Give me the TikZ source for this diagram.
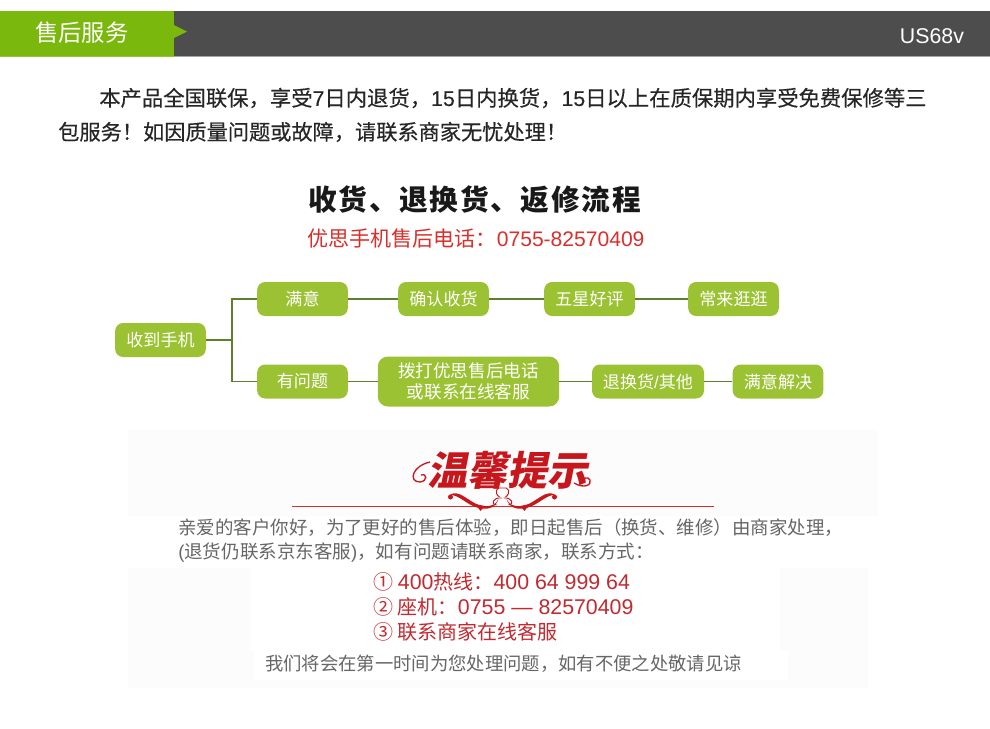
\documentclass[tikz,border=0pt]{standalone}
\usepackage{fontspec}
\setmainfont{Liberation Sans}
\newfontfamily\cjk{Noto Sans CJK SC}
\newfontfamily\cjkmid[FakeBold=0.3]{Noto Sans CJK SC}
\newfontfamily\latmid[FakeBold=0.3]{Liberation Sans}
\newfontfamily\cjkspaced[LetterSpace=6]{Noto Sans CJK SC}
\newcommand{\lat}[1]{{\rmfamily #1}}
\newcommand{\latb}[1]{{\latmid #1}}
\newcommand{\latl}[1]{{\rmfamily\fs{16}#1}}
\newcommand{\fs}[1]{\fontsize{#1}{#1}\selectfont}
\usetikzlibrary{positioning}
\definecolor{bargray}{HTML}{4D4D4D}
\definecolor{bargreen}{HTML}{7AB80E}
\definecolor{boxgreen}{HTML}{9BC232}
\definecolor{linegreen}{HTML}{5F7F2A}
\definecolor{tipred}{HTML}{C8161D}
\definecolor{listred}{HTML}{C22A30}
\definecolor{phonered}{HTML}{D9302C}
\definecolor{graytext}{HTML}{666666}
\definecolor{faint}{HTML}{FCFCFC}
\tikzset{
	txt/.style={inner sep=0pt,anchor=west,font=\cjk},
	flowbox/.style={fill=boxgreen,rounded corners=6pt,text=white,inner sep=0pt,minimum height=25.5pt,minimum width=68pt,font=\cjk\fs{12.8}},
	flowline/.style={draw=linegreen,line width=1.1pt},
}
\begin{document}
\begin{tikzpicture}[x=0.75pt,y=-0.75pt]

\useasboundingbox[fill=white] (0,0) rectangle (990,729);

\fill[faint] (128,430) rectangle (878,516);
\fill[faint] (128,568) rectangle (868,688);
\fill[white] (250,568) rectangle (780,650);
\fill[white] (254,650) rectangle (788,680);

\fill[bargray] (0,11) rectangle (990,56);
\fill[bargreen] (0,11) rectangle (174,56);
\fill[bargreen] (174,25) -- (187,31.5) -- (174,38) -- cycle;
\fill[gray!70] (174,56) rectangle (990,57);
\fill[boxgreen] (0,56) rectangle (174,57);
\node[txt,text=white] (head) at (35,33) {\fs{17.5}售后服务};
\node[inner sep=0pt,text=white] (model) at (932,36) {\fs{16}US68v};

\node[txt,text=black!85] (para1) at (99,98) {\cjkmid\fs{16}本产品全国联保，享受\latb{7}日内退货，\latb{15}日内换货，\latb{15}日以上在质保期内享受免费保修等三};
\node[txt,text=black!85] (para2) at (58,132) {\cjkmid\fs{15.9}包服务！如因质量问题或故障，请联系商家无忧处理！};

\node[txt,text=black!90] (title) at (308,200) {\cjkspaced\bfseries\fs{21.5}收货、退换货、返修流程};
\node[txt,text=phonered] (phone) at (307,238) {\fs{15.8}优思手机售后电话：\lat{0755-82570409}};

\node[flowbox] (root) at (160.5,340) {收到手机};
\node[flowbox] (ok) at (302.5,299) {满意};
\node[flowbox] (confirm) at (443.5,299) {确认收货};
\node[flowbox] (star) at (589.5,299) {五星好评};
\node[flowbox] (visit) at (733.5,299) {常来逛逛};
\node[flowbox] (issue) at (302.5,381.5) {有问题};
\node[flowbox,minimum width=136pt,minimum height=37.5pt,rounded corners=7.5pt,align=center,font=\cjk\fs{13.2}] (call) at (468.5,381.5) {拨打优思售后电话\\[2.5pt]或联系在线客服};
\node[flowbox,minimum width=84pt] (swap) at (648,381.5) {退换货\lat{/}其他};
\node[flowbox] (solve) at (778,381.5) {满意解决};
\coordinate (fork) at (232,340);

\draw[flowline] (root) -- (fork);
\foreach \x in {ok,issue}
	\draw[flowline] (fork) |- (\x);
\foreach \x/\y in {ok/confirm,confirm/star,star/visit,issue/call,call/swap,swap/solve}
	\draw[flowline] (\x) -- (\y);

\node[inner sep=0pt,text=tipred,xslant=0.2,transform shape] (tip) at (511,470) {\cjk\bfseries\fs{30}温馨提示};
\draw[tipred,line width=1pt] (430,462) .. controls (412,466) and (408,482) .. (420,482) .. controls (428,481) and (427,473) .. (421,475);
\draw[tipred,line width=1pt] (574,483) .. controls (584,489) and (592,485) .. (590,480) .. controls (588,476) and (582,478) .. (584,482);
\draw[phonered,line width=0.75pt] (292,506.5) -- (714,506.5);
\foreach \s in {1,-1} {
	\begin{scope}[shift={(502.5,0)},xscale=\s]
		\fill[tipred] (-53,495) .. controls (-44,489) and (-36,500) .. (-24,505) .. controls (-14,508) and (-6,505) .. (-4,499) .. controls (-7,508) and (-14,510) .. (-24,508) .. controls (-36,505) and (-44,494) .. (-53,495) -- cycle;
		\fill[tipred] (-27,504) -- (-18,506) -- (-22,511) -- cycle;
		\fill[tipred] (-52,497) circle (2.5);
		\draw[tipred,line width=0.7pt] (0,488) .. controls (-6,486) and (-9,493) .. (-3,497);
		\draw[tipred,line width=0.7pt] (-1,498) .. controls (-10,497) and (-12,505) .. (-6,505);
	\end{scope}
}

\node[txt,text=graytext] (care1) at (178,528) {\fs{13.85}亲爱的客户你好，为了更好的售后体验，即日起售后（换货、维修）由商家处理，};
\node[txt,text=graytext] (care2) at (178,553) {\fs{13.9}\lat{(}退货仍联系京东客服\lat{)}，如有问题请联系商家，联系方式：};

\node[txt,text=listred] (item1) at (373,582) {\fs{15}①\hspace{3.5pt}\latl{400}热线：\latl{400 64 999 64}};
\node[txt,text=listred] (item2) at (373,607) {\fs{15}②\hspace{3.5pt}座机：\latl{0755 — 82570409}};
\node[txt,text=listred] (item3) at (373,632) {\fs{15}③\hspace{3.5pt}联系商家在线客服};

\node[txt,text=graytext] (sorry) at (265,664) {\fs{13.75}我们将会在第一时间为您处理问题，如有不便之处敬请见谅};

\end{tikzpicture}
\end{document}
